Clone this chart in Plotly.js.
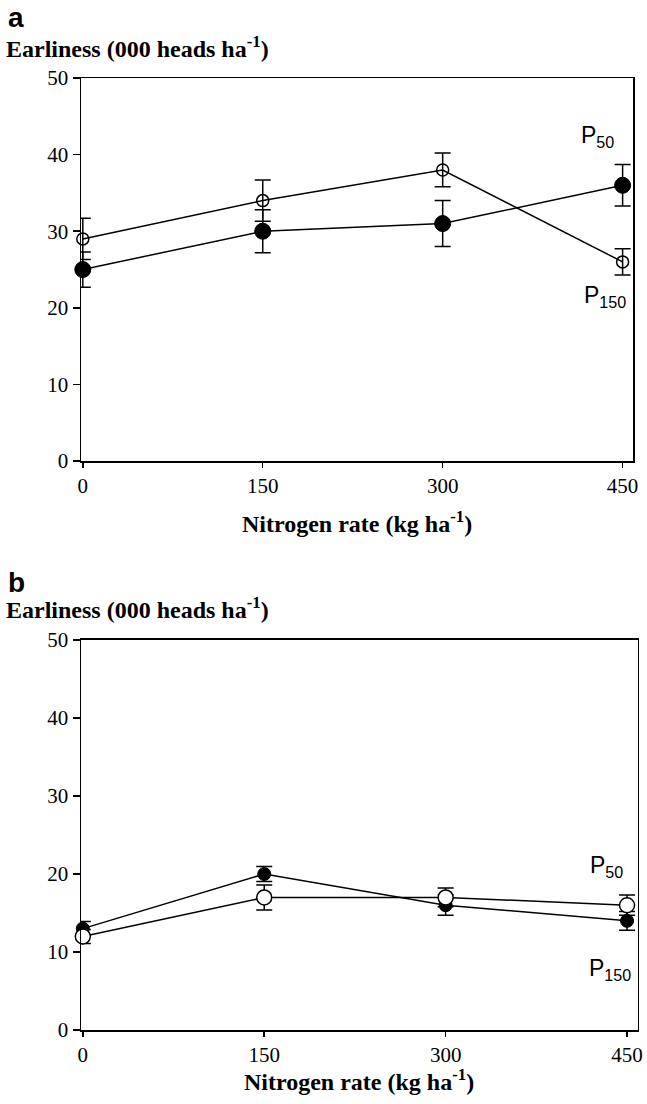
<!DOCTYPE html>
<html>
<head>
<meta charset="utf-8">
<script src="https://cdn.plot.ly/plotly-3.0.1.min.js"></script>
<style>html,body{margin:0;padding:0;background:#fff;}#chart{width:647px;height:1104px;}</style>
</head>
<body>
<div id="chart"></div>
<script>
// Nitrogen rate (kg ha-1)
const nitrogen = [0, 150, 300, 450];
const xTicks = [0, 150, 300, 450];
const yTicks = [0, 10, 20, 30, 40, 50];

// Panel a
const aP50 = [25, 30, 31, 36];
const aP50err = [2.3, 2.8, 3.0, 2.7];
const aP150 = [29, 34, 38, 26];
const aP150err = [2.7, 2.7, 2.2, 1.7];

// Panel b
const bP50 = [13, 20, 16, 14];
const bP50err = [0.9, 0.95, 1.3, 1.2];
const bP150 = [12, 17, 17, 16];
const bP150err = [0.9, 1.6, 1.2, 1.3];

const serif = "Liberation Serif, Times New Roman, serif";
const sans = "Liberation Sans, Arial, sans-serif";

function series(x, y, err, xa, ya, marker) {
  return {
    x: x, y: y, xaxis: xa, yaxis: ya, type: 'scatter', mode: 'lines+markers',
    line: {color: '#000', width: 1.5},
    marker: marker,
    error_y: {type: 'data', array: err, visible: true, color: '#000', thickness: 1.5, width: 8},
    showlegend: false, hoverinfo: 'skip', cliponaxis: false
  };
}

const data = [
  series(nitrogen, aP150, aP150err, 'x', 'y', {symbol: 'circle-open', size: 12, color: '#000', line: {color: '#000', width: 1.5}}),
  series(nitrogen, aP50, aP50err, 'x', 'y', {symbol: 'circle', size: 16, color: '#000', line: {color: '#000', width: 1}}),
  series(nitrogen, bP50, bP50err, 'x2', 'y2', {symbol: 'circle', size: 13, color: '#000', line: {color: '#000', width: 1}}),
  series(nitrogen, bP150, bP150err, 'x2', 'y2', {symbol: 'circle', size: 15, color: '#fff', line: {color: '#000', width: 1.5}})
];

function xaxis(domain, range, anchor) {
  return {
    domain: domain, range: range, anchor: anchor,
    tickvals: xTicks, ticktext: xTicks.map(String),
    ticks: 'outside', ticklen: 5, tickwidth: 1.5, tickcolor: '#000',
    showline: true, linecolor: '#000', linewidth: 1.5, mirror: true,
    showgrid: false, zeroline: false,
    tickfont: {family: serif, size: 21, color: '#000'},
    fixedrange: true
  };
}
function yaxis(domain, anchor) {
  return {
    domain: domain, range: [0, 50], anchor: anchor,
    tickvals: yTicks, ticktext: yTicks.map(String),
    ticks: 'outside', ticklen: 7, tickwidth: 1.5, tickcolor: '#000',
    showline: true, linecolor: '#000', linewidth: 1.5, mirror: true,
    showgrid: false, zeroline: false,
    tickfont: {family: serif, size: 21, color: '#000'},
    fixedrange: true
  };
}

const ann = [];
function lbl(text, x, y, size, font, weight, xanchor) {
  ann.push({text: text, x: x, y: y, xref: 'paper', yref: 'paper', showarrow: false,
    xanchor: xanchor || 'center', yanchor: 'middle',
    font: {family: font, size: size, color: '#000', weight: weight || 'normal'}});
}
const yTitle = 'Earliness (000 heads ha<sup>-1</sup>)';
const xTitle = 'Nitrogen rate (kg ha<sup>-1</sup>)';
lbl('a', 0.010, 0.984, 28, sans, 'bold', 'left');
lbl(yTitle, 0.006, 0.957, 24, serif, 'bold', 'left');
lbl(xTitle, 0.552, 0.527, 24, serif, 'bold');
lbl('b', 0.010, 0.472, 28, sans, 'bold', 'left');
lbl(yTitle, 0.006, 0.449, 24, serif, 'bold', 'left');
lbl(xTitle, 0.555, 0.022, 24, serif, 'bold');
lbl('P<sub>50</sub>', 0.923, 0.876, 23, sans);
lbl('P<sub>150</sub>', 0.935, 0.731, 23, sans);
lbl('P<sub>50</sub>', 0.937, 0.215, 23, sans);
lbl('P<sub>150</sub>', 0.943, 0.122, 23, sans);

const layout = {
  width: 647, height: 1104,
  margin: {l: 0, r: 0, t: 0, b: 0},
  paper_bgcolor: '#fff', plot_bgcolor: '#fff',
  showlegend: false,
  xaxis: xaxis([0.1252, 0.979], [-1.5, 459], 'y'),
  yaxis: yaxis([0.5824, 0.9293], 'x'),
  xaxis2: xaxis([0.1252, 0.986], [-1.5, 459], 'y2'),
  yaxis2: yaxis([0.067, 0.4203], 'x2'),
  annotations: ann
};

Plotly.newPlot('chart', data, layout, {displayModeBar: false, staticPlot: true});
</script>
</body>
</html>
